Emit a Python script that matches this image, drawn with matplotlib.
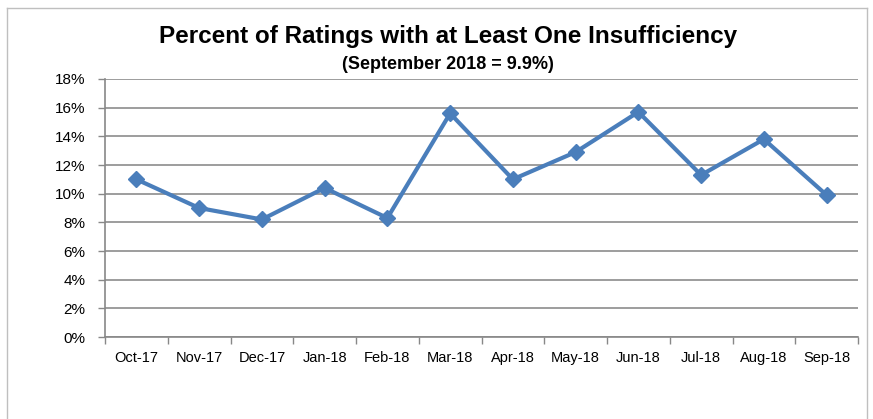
import matplotlib
matplotlib.use("Agg")
import matplotlib.pyplot as plt
from matplotlib.ticker import FuncFormatter, FixedLocator, NullFormatter
from matplotlib.lines import Line2D

months = ["Oct-17", "Nov-17", "Dec-17", "Jan-18", "Feb-18", "Mar-18",
          "Apr-18", "May-18", "Jun-18", "Jul-18", "Aug-18", "Sep-18"]
pct = [11.0, 9.0, 8.2, 10.4, 8.3, 15.6, 11.0, 12.9, 15.7, 11.3, 13.8, 9.9]
yticks = [0, 2, 4, 6, 8, 10, 12, 14, 16, 18]

plt.rcParams['font.family'] = ['Liberation Sans', 'DejaVu Sans']

W, H = 873, 419
fig = plt.figure(figsize=(W/100, H/100), dpi=100)
ax = fig.add_axes([105/W, 1-337/H, (858-105)/W, (337-79)/H])

x = list(range(len(months)))
ax.plot(x, pct, color='#4A7EBB', lw=3, marker='D', ms=8, mec='#4A7EBB', mfc='#4A7EBB', zorder=3)

ax.set_xlim(-0.5, len(months)-0.5)
ax.set_ylim(0, 18)
ax.set_yticks(yticks)
ax.yaxis.set_major_formatter(FuncFormatter(lambda v, p: f"{int(v)}%"))
ax.xaxis.set_major_locator(FixedLocator([i - 0.5 for i in range(len(months)+1)]))
ax.xaxis.set_major_formatter(NullFormatter())
ax.xaxis.set_minor_locator(FixedLocator(x))
ax.set_xticklabels(months, minor=True)
ax.tick_params(axis='x', which='minor', length=0, pad=10, labelsize=10.5)
ax.tick_params(axis='x', which='major', length=5, color='#888888', width=1)
ax.tick_params(axis='y', length=5, color='#888888', width=1, labelsize=11, pad=9)
ax.grid(axis='y', color='#8C8C8C', lw=1.2)
ax.set_axisbelow(True)
for s in ['top', 'right']:
    ax.spines[s].set_visible(False)
for s in ['left', 'bottom']:
    ax.spines[s].set_color('#888888')
    ax.spines[s].set_linewidth(1.2)

fig.text(448/W, 1-37/H, "Percent of Ratings with at Least One Insufficiency",
         ha='center', va='center', fontsize=17.5, fontweight='bold')
fig.text(448/W, 1-64/H, "(September 2018 = 9.9%)",
         ha='center', va='center', fontsize=13, fontweight='bold')

# outer chart frame
fr = dict(color='#BFBFBF', lw=1, transform=fig.transFigure)
fig.add_artist(Line2D([7/W, 867/W], [1-8/H, 1-8/H], **fr))
fig.add_artist(Line2D([7/W, 7/W], [1-8/H, 0], **fr))
fig.add_artist(Line2D([867/W, 867/W], [1-8/H, 0], **fr))

fig.savefig("out.png", dpi=100)
